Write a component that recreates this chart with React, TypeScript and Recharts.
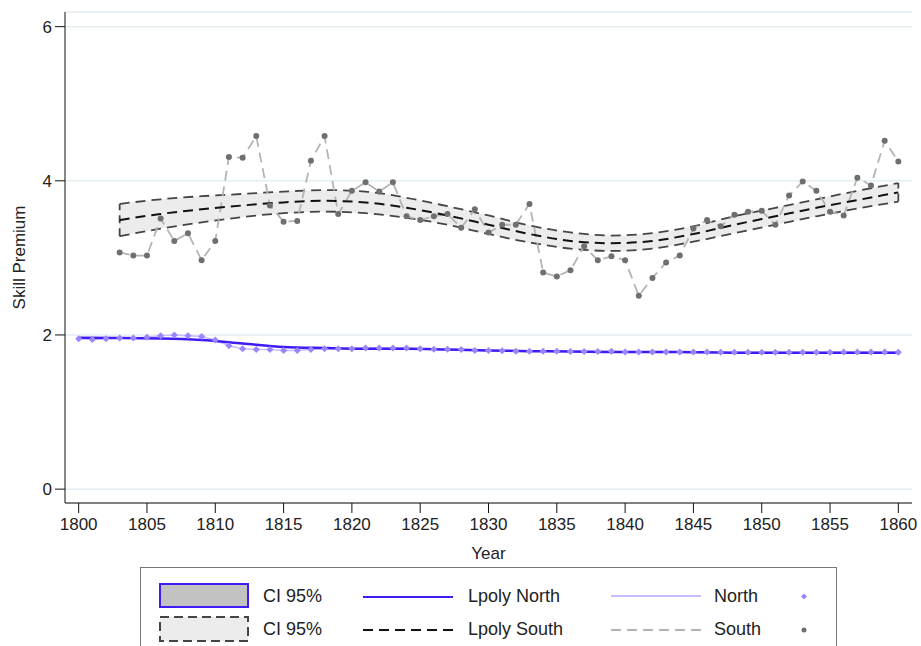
import React from 'react';
import {
  ComposedChart,
  Line,
  Area,
  XAxis,
  YAxis,
  CartesianGrid,
  ReferenceLine,
} from 'recharts';

const YEARS = Array.from({ length: 61 }, (_, i) => 1800 + i);

const NORTH = [
  1.95, 1.94, 1.95, 1.96, 1.96, 1.97, 1.99, 2.0, 1.99, 1.98,
  1.935, 1.86, 1.82, 1.81, 1.81, 1.8, 1.8, 1.81, 1.82, 1.82,
  1.82, 1.83, 1.83, 1.83, 1.83, 1.82, 1.815, 1.815, 1.81, 1.8,
  1.8, 1.795, 1.79, 1.79, 1.79, 1.79, 1.785, 1.785, 1.785, 1.79,
  1.78, 1.78, 1.78, 1.78, 1.78, 1.78, 1.78, 1.775, 1.775, 1.775,
  1.775, 1.775, 1.775, 1.775, 1.775, 1.775, 1.78, 1.78, 1.78, 1.78,
  1.775,
];

// South starts in 1803
const SOUTH_START = 1803;
const SOUTH = [
  3.07, 3.03, 3.03, 3.51, 3.22, 3.32, 2.97, 3.22, 4.31, 4.3,
  4.58, 3.68, 3.47, 3.48, 4.26, 4.58, 3.57, 3.87, 3.98, 3.86,
  3.98, 3.54, 3.49, 3.54, 3.57, 3.39, 3.63, 3.33, 3.43, 3.43,
  3.7, 2.81, 2.76, 2.84, 3.15, 2.97, 3.02, 2.97, 2.51, 2.74,
  2.94, 3.03, 3.38, 3.49, 3.41, 3.56, 3.6, 3.61, 3.43, 3.81,
  3.99, 3.87, 3.6, 3.55, 4.04, 3.94, 4.52, 4.25,
];

// local polynomial fits, every third year
const LPOLY_YEARS = [
  1800, 1803, 1806, 1809, 1812, 1815, 1818, 1821, 1824, 1827, 1830,
  1833, 1836, 1839, 1842, 1845, 1848, 1851, 1854, 1857, 1860,
];
const LPOLY_NORTH = [
  1.965, 1.96, 1.955, 1.935, 1.89, 1.845, 1.83, 1.82, 1.82, 1.81, 1.8,
  1.79, 1.785, 1.78, 1.78, 1.775, 1.77, 1.77, 1.77, 1.77, 1.77,
];
// from 1803
const LPOLY_SOUTH = [
  3.49, 3.57, 3.63, 3.68, 3.72, 3.74, 3.72, 3.65, 3.55, 3.43,
  3.31, 3.22, 3.19, 3.22, 3.31, 3.43, 3.54, 3.65, 3.75, 3.85,
];
const SOUTH_LO = [
  3.28, 3.38, 3.46, 3.53, 3.58, 3.6, 3.58, 3.52, 3.43, 3.31,
  3.2, 3.12, 3.09, 3.12, 3.21, 3.32, 3.43, 3.54, 3.64, 3.73,
];
const SOUTH_HI = [
  3.7, 3.76, 3.8, 3.83, 3.86, 3.88, 3.86, 3.78, 3.67, 3.55,
  3.42, 3.33, 3.29, 3.32, 3.41, 3.54, 3.65, 3.76, 3.87, 3.97,
];

const X_TICKS = [1800, 1805, 1810, 1815, 1820, 1825, 1830, 1835, 1840, 1845, 1850, 1855, 1860];
const Y_TICKS = [0, 2, 4, 6];

const data = YEARS.map((year, i) => {
  const row: any = { year, north: NORTH[i] };
  const si = year - SOUTH_START;
  row.south = si >= 0 ? SOUTH[si] : null;
  const li = LPOLY_YEARS.indexOf(year);
  if (li >= 0) {
    row.lpolyNorth = LPOLY_NORTH[li];
    if (li >= 1) {
      row.lpolySouth = LPOLY_SOUTH[li - 1];
      row.southLo = SOUTH_LO[li - 1];
      row.southHi = SOUTH_HI[li - 1];
      row.band = [SOUTH_LO[li - 1], SOUTH_HI[li - 1]];
    }
  }
  return row;
});

const FONT = '"Liberation Sans", Arial, Helvetica, sans-serif';
const PURPLE = '#3d1cf5';
const LAVENDER = '#c7bcff';
const DIAMOND = '#9a86ff';
const GREY_DOT = '#6f6f6f';
const GREY_LINE = '#b4b4b4';
const CI_EDGE = '#454545';

const Diamond = (props: any) => {
  const { cx, cy, index } = props;
  if (cx == null || cy == null) return <g key={`d-${index}`} />;
  return (
    <path
      key={`d-${index}`}
      d={`M${cx},${cy - 3.5}L${cx + 3.5},${cy}L${cx},${cy + 3.5}L${cx - 3.5},${cy}Z`}
      fill={DIAMOND}
    />
  );
};

const Dot = (props: any) => {
  const { cx, cy, index, value } = props;
  if (cx == null || cy == null || value == null) return <g key={`c-${index}`} />;
  return <circle key={`c-${index}`} cx={cx} cy={cy} r={3} fill={GREY_DOT} />;
};

const YLabel = ({ viewBox }: any) => {
  const cy = viewBox.y + viewBox.height / 2;
  return (
    <text x={19} y={cy} transform={`rotate(-90, 19, ${cy})`} textAnchor="middle" dominantBaseline="central" fontSize={17} fill="#222" fontFamily={FONT}>
      Skill Premium
    </text>
  );
};

const legendText: React.CSSProperties = { position: 'absolute', fontSize: 18, color: '#222', lineHeight: '20px' };

const LegendBox = () => (
  <div style={{ position: 'absolute', left: 140, top: 567, width: 697, height: 100, border: '1px solid #777', boxSizing: 'border-box', fontFamily: FONT }}>
    <svg width={697} height={80} style={{ position: 'absolute', left: 0, top: 0 }}>
      <rect x={19} y={16} width={88} height={23} fill="#c2c2c2" stroke={PURPLE} strokeWidth={2} />
      <rect x={19} y={49} width={88} height={24} fill="#ececec" stroke={CI_EDGE} strokeWidth={2} strokeDasharray="9 5" />
      <line x1={222} x2={312} y1={29} y2={29} stroke={PURPLE} strokeWidth={2} />
      <line x1={222} x2={312} y1={62} y2={62} stroke="#111" strokeWidth={2} strokeDasharray="10 6" />
      <line x1={470} x2={560} y1={28} y2={28} stroke={LAVENDER} strokeWidth={2} />
      <line x1={470} x2={560} y1={62} y2={62} stroke={GREY_LINE} strokeWidth={2} strokeDasharray="10 6" />
      <path d="M663,25.5L666,28.5L663,31.5L660,28.5Z" fill={DIAMOND} />
      <circle cx={663} cy={62} r={2.5} fill={GREY_DOT} />
    </svg>
    <div style={{ ...legendText, left: 122, top: 18 }}>CI 95%</div>
    <div style={{ ...legendText, left: 122, top: 51 }}>CI 95%</div>
    <div style={{ ...legendText, left: 327, top: 18 }}>Lpoly North</div>
    <div style={{ ...legendText, left: 327, top: 51 }}>Lpoly South</div>
    <div style={{ ...legendText, left: 573, top: 18 }}>North</div>
    <div style={{ ...legendText, left: 573, top: 51 }}>South</div>
  </div>
);

export default function App() {
  return (
    <div style={{ position: 'absolute', left: 0, top: 0, width: 921, height: 646, overflow: 'hidden', background: '#fff', fontFamily: FONT }}>
      <ComposedChart width={921} height={565} data={data} margin={{ top: 12, right: 9, bottom: 5, left: 10 }}>
        <CartesianGrid horizontal vertical={false} stroke="#e4edf1" strokeWidth={1.5} />
        <XAxis
          dataKey="year"
          type="number"
          domain={[1799, 1861]}
          ticks={X_TICKS}
          height={57}
          tickSize={10}
          tickMargin={5}
          stroke="#111"
          tick={{ fontSize: 17, fill: '#222', fontFamily: FONT }}
          label={{ value: 'Year', position: 'insideBottom', offset: 1, fontSize: 17, fill: '#222', fontFamily: FONT }}
          allowDataOverflow
        />
        <YAxis
          type="number"
          domain={[-0.18, 6.19]}
          ticks={Y_TICKS}
          width={55}
          tickSize={10}
          tickMargin={3}
          stroke="#111"
          tick={{ fontSize: 17, fill: '#222', fontFamily: FONT }}
          label={<YLabel />}
          allowDataOverflow
        />
        <Area
          dataKey="band"
          type="monotone"
          fill="#ececec"
          fillOpacity={1}
          stroke="none"
          connectNulls
          isAnimationActive={false}
        />
        <Line dataKey="southHi" type="monotone" stroke={CI_EDGE} strokeWidth={1.8} strokeDasharray="10 6" dot={false} connectNulls isAnimationActive={false} />
        <Line dataKey="southLo" type="monotone" stroke={CI_EDGE} strokeWidth={1.8} strokeDasharray="10 6" dot={false} connectNulls isAnimationActive={false} />
        <ReferenceLine
          segment={[{ x: LPOLY_YEARS[1], y: SOUTH_LO[0] }, { x: LPOLY_YEARS[1], y: SOUTH_HI[0] }]}
          stroke={CI_EDGE}
          strokeWidth={1.8}
          strokeDasharray="8 5"
        />
        <ReferenceLine
          segment={[{ x: LPOLY_YEARS[20], y: SOUTH_LO[19] }, { x: LPOLY_YEARS[20], y: SOUTH_HI[19] }]}
          stroke={CI_EDGE}
          strokeWidth={1.8}
          strokeDasharray="8 5"
        />
        <Line dataKey="south" type="linear" stroke={GREY_LINE} strokeWidth={1.8} strokeDasharray="10 6" dot={<Dot />} connectNulls isAnimationActive={false} />
        <Line dataKey="lpolySouth" type="monotone" stroke="#111" strokeWidth={2} strokeDasharray="10 6" dot={false} connectNulls isAnimationActive={false} />
        <Line dataKey="north" type="linear" stroke={LAVENDER} strokeWidth={1.5} dot={<Diamond />} isAnimationActive={false} />
        <Line dataKey="lpolyNorth" type="monotone" stroke={PURPLE} strokeWidth={2.5} dot={false} connectNulls isAnimationActive={false} />
      </ComposedChart>
      <LegendBox />
    </div>
  );
}
